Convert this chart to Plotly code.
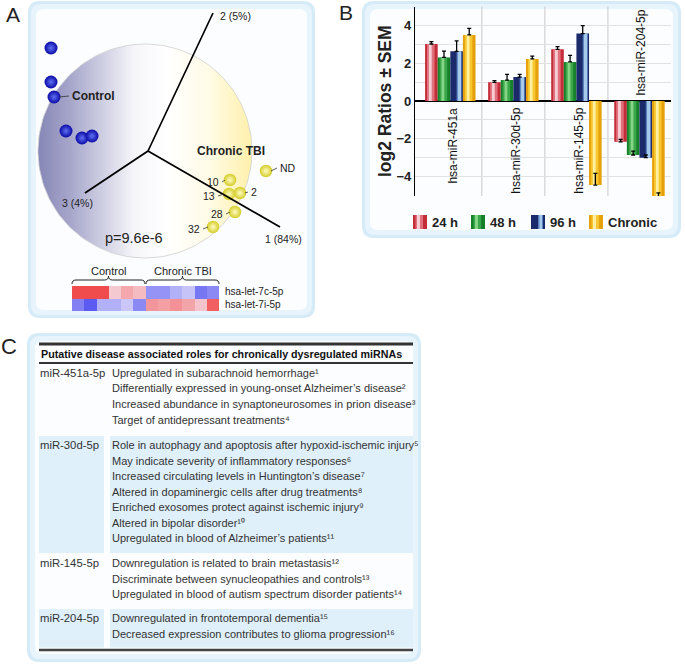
import numpy as np
import plotly.graph_objects as go

W, H = 685, 664

# ------------------------------------------------------------------ data
# Panel A: PCA projection (values in the panel's projected frame)
control_x = [51, 51, 54, 66, 82, 92]
control_y = [48, 82, 97, 131, 138, 136]
tbi_labels = ["ND", "10", "13", "2", "28", "32"]
tbi_x = [266, 230, 229, 240, 235, 213]
tbi_y = [171, 180, 194, 193, 212, 227]
pc_labels = ["1 (84%)", "2 (5%)", "3 (4%)"]
p_value_text = "p=9.6e-6"

# Panel A heatmap (standardised expression)
heat_genes = ["hsa-let-7c-5p", "hsa-let-7i-5p"]
heat_samples = ["C1", "C2", "C3", "C4", "C5", "C6", "T1", "T2", "T3", "T4", "T5", "T6"]
heat_let7c = [1.8, 1.8, 1.8, 0.45, 0.8, 0.6, -1.0, -1.0, -0.7, -0.5, -1.3, -1.1]
heat_let7i = [-1.2, -1.6, -0.7, -0.7, -0.45, -1.1, 1.0, 0.9, 1.05, 0.85, 0.5, 1.6]

# Panel B: log2 ratios +- SEM
mirnas = ["hsa-miR-451a", "hsa-miR-30d-5p", "hsa-miR-145-5p", "hsa-miR-204-5p"]
timepoints = ["24 h", "48 h", "96 h", "Chronic"]
ratio_24h = [3.02, 0.99, 2.74, -2.16]
ratio_48h = [2.31, 1.11, 2.07, -2.86]
ratio_96h = [2.63, 1.27, 3.57, -3.00]
ratio_chronic = [3.50, 2.23, -4.45, -5.19]
sem_24h = [0.12, 0.09, 0.14, 0.13]
sem_48h = [0.33, 0.30, 0.35, 0.21]
sem_96h = [0.56, 0.14, 0.42, 0.14]
sem_chronic = [0.35, 0.15, 0.62, 0.33]

# Panel C: table
table_title = "Putative disease associated roles for chronically dysregulated miRNAs"
table_mirnas = ["miR-451a-5p", "miR-30d-5p", "miR-145-5p", "miR-204-5p"]
roles_451a = [
    "Upregulated in subarachnoid hemorrhage¹",
    "Differentially expressed in young-onset Alzheimer’s disease²",
    "Increased abundance in synaptoneurosomes in prion disease³",
    "Target of antidepressant treatments⁴",
]
roles_30d = [
    "Role in autophagy and apoptosis after hypoxid-ischemic injury⁵",
    "May indicate severity of inflammatory responses⁶",
    "Increased circulating levels in Huntington’s disease⁷",
    "Altered in dopaminergic cells after drug treatments⁸",
    "Enriched exosomes protect against ischemic injury⁹",
    "Altered in bipolar disorder¹⁰",
    "Upregulated in blood of Alzheimer’s patients¹¹",
]
roles_145 = [
    "Downregulation is related to brain metastasis¹²",
    "Discriminate between synucleopathies and controls¹³",
    "Upregulated in blood of autism spectrum disorder patients¹⁴",
]
roles_204 = [
    "Downregulated in frontotemporal dementia¹⁵",
    "Decreased expression contributes to glioma progression¹⁶",
]

# ------------------------------------------------------------------ helpers
SANS = "Liberation Sans, Arial, sans-serif"
TXT = "#222222"


def X(px):
    return px / W


def Y(py):
    return 1 - py / H


def P(x, y):
    return f"{X(x):.5f},{Y(y):.5f}"


def rrect_path(x0, y0, x1, y1, r):
    return (f"M {P(x0 + r, y0)} L {P(x1 - r, y0)} Q {P(x1, y0)} {P(x1, y0 + r)} "
            f"L {P(x1, y1 - r)} Q {P(x1, y1)} {P(x1 - r, y1)} L {P(x0 + r, y1)} "
            f"Q {P(x0, y1)} {P(x0, y1 - r)} L {P(x0, y0 + r)} Q {P(x0, y0)} {P(x0 + r, y0)} Z")


def brace_path(x0, x1, yb, h, r=4):
    xm = (x0 + x1) / 2
    ym = yb - h / 2
    yt = yb - h
    return (f"M {P(x0, yb)} Q {P(x0, ym)} {P(x0 + r, ym)} L {P(xm - r, ym)} "
            f"Q {P(xm, ym)} {P(xm, yt)} Q {P(xm, ym)} {P(xm + r, ym)} "
            f"L {P(x1 - r, ym)} Q {P(x1, ym)} {P(x1, yb)}")


shapes = []
annotations = []


def box(x0, y0, x1, y1):
    shapes.append(dict(type="path", path=rrect_path(x0, y0, x1, y1, 12), xref="paper", yref="paper",
                       fillcolor="#d6ebf8", line=dict(width=0), layer="below"))
    shapes.append(dict(type="path", path=rrect_path(x0 + 3, y0 + 3, x1 - 3, y1 - 3, 10), xref="paper",
                       yref="paper", fillcolor="#e8f4fc", line=dict(width=0), layer="below"))
    shapes.append(dict(type="path", path=rrect_path(x0 + 8, y0 + 8, x1 - 8, y1 - 8, 8), xref="paper",
                       yref="paper", fillcolor="#fbfdff", line=dict(width=0), layer="below"))


def rect(x0, y0, x1, y1, color, layer="below"):
    shapes.append(dict(type="rect", x0=X(x0), x1=X(x1), y0=Y(y1), y1=Y(y0), xref="paper", yref="paper",
                       fillcolor=color, line=dict(width=0), layer=layer))


def line(x0, y0, x1, y1, width=1, color="black"):
    shapes.append(dict(type="line", x0=X(x0), y0=Y(y0), x1=X(x1), y1=Y(y1), xref="paper", yref="paper",
                       line=dict(color=color, width=width), layer="above"))


def text(x, y, s, size=11, xanchor="left", yanchor="middle", family=SANS, weight="normal", angle=0,
         color=TXT):
    annotations.append(dict(x=X(x), y=Y(y), xref="paper", yref="paper", text=s, showarrow=False,
                            xanchor=xanchor, yanchor=yanchor, textangle=angle,
                            font=dict(family=family, size=size, color=color, weight=weight)))


# panel boxes
box(28, 1, 315, 318)
box(362, 1, 681, 238)
box(27, 333, 421, 662)

# panel letters
text(13, 15, "A", size=21, xanchor="center")
text(346, 12, "B", size=21, xanchor="center")
text(9, 346, "C", size=22, xanchor="center")

fig = go.Figure()

# ------------------------------------------------------------------ panel A
t = np.linspace(0, 2 * np.pi, 200)
cx, cy, cr = 145, 151, 107
fig.add_trace(go.Scatter(
    x=cx + cr * np.cos(t), y=cy + cr * np.sin(t), xaxis="x2", yaxis="y2", mode="lines",
    fill="toself", line=dict(color="#cfcfcf", width=0.8),
    fillgradient=dict(type="horizontal", colorscale=[
        [0, "#8686b6"], [0.15, "#a6a6cb"], [0.45, "#f6f6fa"], [0.6, "#ffffff"],
        [0.8, "#fffbe6"], [1, "#fff0aa"]]),
    hoverinfo="skip"))

# PCA axes
ox, oy = 148, 151
line(ox, oy, 213, 13, 1.7)
line(ox, oy, 85, 193, 1.7)
line(ox, oy, 280, 227, 1.7)
text(218, 16, pc_labels[1], size=10.5)
text(60, 203, pc_labels[2], size=10.5)
text(263, 239, pc_labels[0], size=10.5)
text(134, 238, p_value_text, size=14.5, xanchor="center")

fig.add_trace(go.Scatter(
    x=control_x, y=control_y, xaxis="x2", yaxis="y2", mode="markers",
    marker=dict(size=13, color="#0a0aa6", line=dict(width=0),
                gradient=dict(type="radial", color="#6070f2")),
    hoverinfo="skip"))
fig.add_trace(go.Scatter(
    x=tbi_x, y=tbi_y, xaxis="x2", yaxis="y2", mode="markers",
    marker=dict(size=12.5, color="#d4cc26", line=dict(width=0),
                gradient=dict(type="radial", color="#fffcc4")),
    hoverinfo="skip"))

# group labels + connectors
line(59, 97, 69, 96, 0.8, "#333")
text(70, 96, "Control", size=12, weight="bold")
text(231, 151, "Chronic TBI", size=12, weight="bold", xanchor="center")
label_pos = {  # label anchor and connector end for each TBI sample
    "ND": (277, 168, "left"), "10": (222, 182, "right"), "13": (218, 196, "right"),
    "2": (248, 192, "left"), "28": (226, 214, "right"), "32": (203, 229, "right"),
}
for lab, sx, sy in zip(tbi_labels, tbi_x, tbi_y):
    lx, ly, anc = label_pos[lab]
    line(sx + (5 if anc == "left" else -5), sy, lx, ly, 0.8, "#333")
    text(lx + (1 if anc == "left" else -1), ly, lab, size=10.5, xanchor=anc)

# heatmap
fig.add_trace(go.Heatmap(
    z=[heat_let7c, heat_let7i], x=heat_samples, y=heat_genes, xaxis="x3", yaxis="y3",
    zmin=-2, zmax=2, showscale=False,
    colorscale=[[0, "#3434ee"], [0.5, "#f6f2fb"], [1, "#f03a3a"]], hoverinfo="skip"))
shapes.append(dict(type="path", path=brace_path(72, 145, 284, 8), xref="paper", yref="paper",
                   line=dict(color="#222", width=1), layer="above"))
shapes.append(dict(type="path", path=brace_path(146, 219, 284, 8), xref="paper", yref="paper",
                   line=dict(color="#222", width=1), layer="above"))
text(108, 271, "Control", size=11, xanchor="center")
text(183, 271, "Chronic TBI", size=11, xanchor="center")
text(223, 292, heat_genes[0], size=10)
text(223, 305, heat_genes[1], size=10)

# ------------------------------------------------------------------ panel B
series = [
    (ratio_24h, sem_24h, "#c42c38", "#e0707c", "#f6cdd3"),
    (ratio_48h, sem_48h, "#17802a", "#3aa84a", "#86d486"),
    (ratio_96h, sem_96h, "#1b2a6b", "#5a82c0", "#a6cbea"),
    (ratio_chronic, sem_chronic, "#e6a00a", "#f7c52e", "#fff0a0"),
]
bw = 0.2
for k, (vals, sem, base, mid, light) in enumerate(series):
    off = -0.4 + bw * k
    fig.add_trace(go.Bar(x=mirnas, y=vals, offset=off, width=bw, marker=dict(color=base, line=dict(width=0)),
                         name=timepoints[k], hoverinfo="skip"))
    if k == 2:
        fig.add_trace(go.Bar(x=mirnas, y=vals, offset=off + 0.10, width=0.08,
                             marker=dict(color=mid, line=dict(width=0)), hoverinfo="skip"))
        fig.add_trace(go.Bar(x=mirnas, y=vals, offset=off + 0.12, width=0.05,
                             marker=dict(color=light, line=dict(width=0)), hoverinfo="skip"))
    else:
        fig.add_trace(go.Bar(x=mirnas, y=vals, offset=off + 0.03, width=0.12,
                             marker=dict(color=mid, line=dict(width=0)), hoverinfo="skip"))
        fig.add_trace(go.Bar(x=mirnas, y=vals, offset=off + 0.06, width=0.045,
                             marker=dict(color=light, line=dict(width=0)), hoverinfo="skip"))
for k, (vals, sem, base, mid, light) in enumerate(series):
    fig.add_trace(go.Bar(x=mirnas, y=vals, offset=-0.4 + bw * k, width=bw,
                         marker=dict(color="rgba(0,0,0,0)", line=dict(width=0)),
                         error_y=dict(type="data", array=sem, arrayminus=[0] * len(sem), symmetric=False,
                                      color="black", thickness=1.3, width=2),
                         hoverinfo="skip"))

for i, m in enumerate(mirnas):
    if i == 3:
        annotations.append(dict(x=i + 0.03, y=0.2, xref="x", yref="y", text=m, showarrow=False,
                                textangle=-90, xanchor="center", yanchor="bottom",
                                font=dict(family=SANS, size=12, color="#111")))
    else:
        annotations.append(dict(x=i + 0.04, y=-0.25, xref="x", yref="y", text=m, showarrow=False,
                                textangle=-90, xanchor="center", yanchor="top",
                                font=dict(family=SANS, size=12, color="#111")))

text(385, 101, "log2 Ratios ± SEM", size=17.5, weight="bold", angle=-90, xanchor="center")

# legend
leg_x = [413, 471, 531, 589]
for k, (vals, sem, base, mid, light) in enumerate(series):
    x0 = leg_x[k]
    rect(x0, 215, x0 + 14, 229, base, layer="above")
    if k == 2:
        rect(x0 + 7, 215, x0 + 12, 229, mid, layer="above")
        rect(x0 + 8.5, 215, x0 + 11, 229, light, layer="above")
    else:
        rect(x0 + 2.5, 215, x0 + 10, 229, mid, layer="above")
        rect(x0 + 4, 215, x0 + 7, 229, light, layer="above")
    text(x0 + 17, 222.5, timepoints[k], size=13, weight="bold")

# ------------------------------------------------------------------ panel C
TL, TR = 39, 413
COL2 = 110
line(TL, 344, TR, 344, 3, "#333")
line(TL, 363, TR, 363, 2, "#333")
line(TL, 650, TR, 650, 2.5, "#444")
text(39, 354, table_title, size=10.7, weight="bold", color="#111")

blocks = [roles_451a, roles_30d, roles_145, roles_204]
starts = [373, 445, 563, 618]
step = 15.5
shaded = [False, True, False, True]
for name, roles, y0, sh in zip(table_mirnas, blocks, starts, shaded):
    if sh:
        ytop = y0 - 9
        ybot = y0 + step * (len(roles) - 1) + (15 if roles is roles_30d else 14)
        rect(TL, ytop, 104, ybot, "#dff0fb")
        rect(110, ytop, TR, ybot, "#dff0fb")
    text(38, y0, name, size=11.3, color="#333")
    for j, r in enumerate(roles):
        text(COL2, y0 + step * j, r, size=11.0, color="#333")

# ------------------------------------------------------------------ layout
fig.update_layout(
    width=W, height=H, margin=dict(l=0, r=0, t=0, b=0),
    paper_bgcolor="white", plot_bgcolor="rgba(0,0,0,0)", showlegend=False,
    barmode="overlay", template="none",
    shapes=shapes, annotations=annotations,
    xaxis=dict(domain=[X(415), X(671)], range=[-0.56, 3.5], type="category",
               showticklabels=False, ticks="", showgrid=False, zeroline=False, showline=False,
               fixedrange=True),
    yaxis=dict(domain=[Y(196), Y(6.6)], range=[-5.03, 5.0], tick0=0, dtick=2,
               showgrid=True, gridcolor="#e2e2e2", gridwidth=1,
               minor=dict(dtick=1, showgrid=True, gridcolor="#e2e2e2", gridwidth=1),
               zeroline=True, zerolinecolor="black", zerolinewidth=1.6,
               showline=True, linecolor="black", linewidth=1.3, ticks="",
               tickfont=dict(family=SANS, size=13, color="#222", weight="bold"),
               fixedrange=True),
    xaxis2=dict(domain=[0, 1], range=[0, W], visible=False, fixedrange=True),
    yaxis2=dict(domain=[0, 1], range=[H, 0], visible=False, fixedrange=True),
    xaxis3=dict(domain=[X(72), X(219)], visible=False, fixedrange=True),
    yaxis3=dict(domain=[Y(311), Y(286)], visible=False, autorange="reversed", fixedrange=True),
)

# group separators (vertical lines at category boundaries of panel B)
for b in [0.5, 1.5, 2.5]:
    fig.add_shape(type="line", x0=b, x1=b, y0=0, y1=1, xref="x", yref="y domain",
                  line=dict(color="#c8c8c8", width=1), layer="below")

fig.write_html("out.html", config={"displayModeBar": False},
               post_script="document.body.style.margin='0px';")
